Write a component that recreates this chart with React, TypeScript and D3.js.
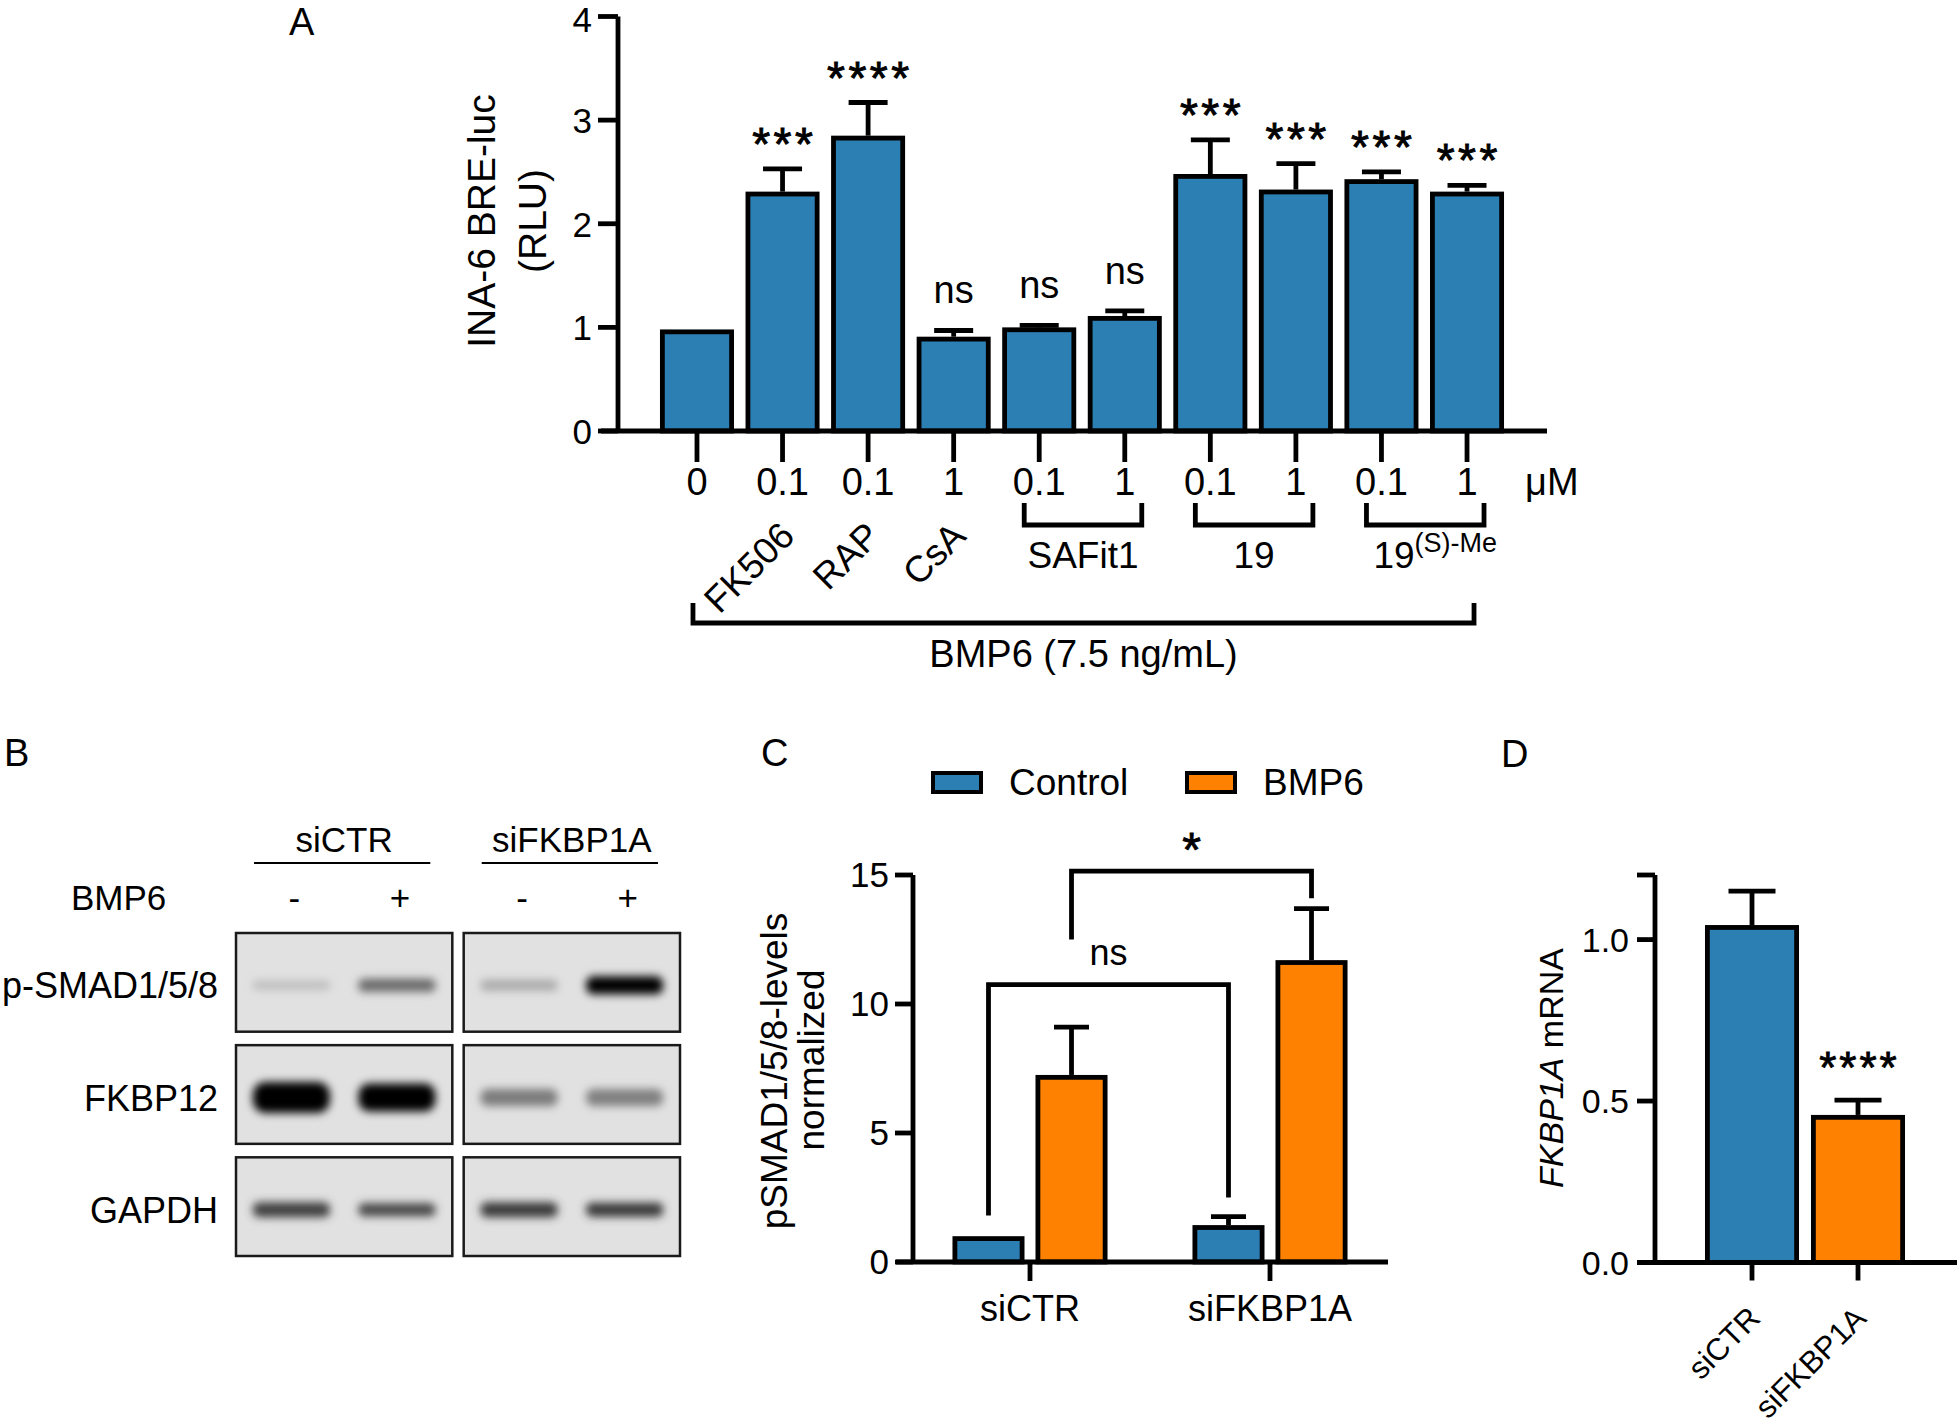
import React from 'react';
import * as d3 from 'd3';

const FONT = '"Liberation Sans", Arial, Helvetica, sans-serif';
const BLUE = '#2c7fb3';
const ORANGE = '#ff8102';
const SW = 4.8;

// ---------- Panel A data ----------
const aCategories = ['BMP6', 'FK506', 'RAP', 'CsA', 'SAFit1 0.1', 'SAFit1 1', '19 0.1', '19 1', '19(S)-Me 0.1', '19(S)-Me 1'];
const aDoseLabels = ['0', '0.1', '0.1', '1', '0.1', '1', '0.1', '1', '0.1', '1'];
const aMeans = [0.98, 2.31, 2.85, 0.91, 1.0, 1.11, 2.48, 2.33, 2.43, 2.31];
const aErrors = [0, 0.22, 0.32, 0.06, 0.02, 0.05, 0.33, 0.25, 0.07, 0.06];
const aSignif = ['', '***', '****', 'ns', 'ns', 'ns', '***', '***', '***', '***'];
const aYTicks = [0, 1, 2, 3, 4];
const aRotated = [
  { i: 1, label: 'FK506' },
  { i: 2, label: 'RAP' },
  { i: 3, label: 'CsA' },
];
const aGroups = [
  { from: 4, to: 5, label: 'SAFit1', sup: '' },
  { from: 6, to: 7, label: '19', sup: '' },
  { from: 8, to: 9, label: '19', sup: '(S)-Me' },
];

// ---------- Panel B data ----------
const blotTargets = ['p-SMAD1/5/8', 'FKBP12', 'GAPDH'];
const blotConditions = ['siCTR', 'siFKBP1A'];
const blotTreatment = ['-', '+'];
const bandIntensity = [
  [0.14, 0.5, 0.22, 1.0],
  [1, 1, 0.42, 0.4],
  [0.7, 0.66, 0.72, 0.74],
];
const bandThickness = [
  [9, 13, 11, 18],
  [31, 28, 17, 17],
  [15, 13, 15, 14],
];

// ---------- Panel C data ----------
const cGroups = ['siCTR', 'siFKBP1A'];
const cSeries = ['Control', 'BMP6'];
const cMeans = [
  [1.0, 7.25],
  [1.43, 11.7],
];
const cErrors = [
  [0, 1.85],
  [0.33, 2.0],
];
const cYTicks = [0, 5, 10, 15];
const cBrackets = [
  { a: [0, 0], b: [1, 0], top: 10.75, endA: 1.8, endB: 2.5, label: 'ns' },
  { a: [0, 1], b: [1, 1], top: 15.15, endA: 12.5, endB: 14.1, label: '*' },
];

// ---------- Panel D data ----------
const dCategories = ['siCTR', 'siFKBP1A'];
const dMeans = [1.045, 0.457];
const dErrors = [0.105, 0.046];
const dSignif = ['', '****'];
const dYTicks = [0, 0.5, 1.0, 1.2];
const dYTickLabels = ['0.0', '0.5', '1.0', ''];

function Bar({ x, w, y0, y1, fill }: { x: number; w: number; y0: number; y1: number; fill: string }) {
  return (
    <rect x={x + SW / 2} y={y1 + SW / 2} width={w - SW} height={y0 - y1 - SW / 2} fill={fill} stroke="#000" strokeWidth={SW} />
  );
}

function ErrBar({ cx, yTop, yEnd, cap }: { cx: number; yTop: number; yEnd: number; cap: number }) {
  return (
    <g stroke="#000" strokeWidth={SW}>
      <line x1={cx} x2={cx} y1={yTop} y2={yEnd} />
      <line x1={cx - cap / 2} x2={cx + cap / 2} y1={yEnd} y2={yEnd} />
    </g>
  );
}

function Stars({ x, y, text, size, ls }: { x: number; y: number; text: string; size: number; ls: number }) {
  return (
    <text x={x + ls / 2} y={y} textAnchor="middle" fontSize={size} letterSpacing={ls} stroke="#000" strokeWidth={0.9}>
      {text}
    </text>
  );
}

function Signif({ x, y, text }: { x: number; y: number; text: string }) {
  if (!text) return null;
  if (text === 'ns') {
    return (
      <text x={x} y={y - 27} textAnchor="middle" fontSize={38}>
        ns
      </text>
    );
  }
  return <Stars x={x} y={y - 9} text={text} size={46} ls={3.5} />;
}

function PanelA() {
  const x = d3.scaleBand<string>().domain(aCategories).range([654.2, 1509.8]).paddingInner(0.135).paddingOuter(0.0675);
  const y = d3.scaleLinear().domain([0, 4]).range([431, 16.5]);
  const bw = x.bandwidth();
  const cx = (i: number) => (x(aCategories[i]) as number) + bw / 2;
  const axisX0 = 618;
  const bigL = cx(0) - 4;
  const bigR = cx(aCategories.length - 1) + 7;
  return (
    <g>
      <text x={289} y={35} fontSize={38}>A</text>
      {/* y title */}
      <text transform={`translate(495,221) rotate(-90)`} textAnchor="middle" fontSize={39}>INA-6 BRE-luc</text>
      <text transform={`translate(546,221) rotate(-90)`} textAnchor="middle" fontSize={39}>(RLU)</text>
      {/* bars */}
      {aMeans.map((m, i) => (
        <g key={i}>
          {aErrors[i] > 0 && <ErrBar cx={cx(i)} yTop={y(m)} yEnd={y(m + aErrors[i])} cap={39} />}
          <Bar x={x(aCategories[i]) as number} w={bw} y0={y(0)} y1={y(m)} fill={BLUE} />
          <Signif x={cx(i)} y={y(m + aErrors[i])} text={aSignif[i]} />
        </g>
      ))}
      {/* axes */}
      <g stroke="#000" strokeWidth={SW}>
        <line x1={axisX0} x2={axisX0} y1={y(4)} y2={y(0)} />
        <line x1={601} x2={1547} y1={y(0)} y2={y(0)} />
        {aYTicks.map((t) => (
          <line key={t} x1={598} x2={axisX0} y1={y(t)} y2={y(t)} />
        ))}
        {aCategories.map((c, i) => (
          <line key={c} x1={cx(i)} x2={cx(i)} y1={y(0)} y2={y(0) + 31} />
        ))}
      </g>
      {aYTicks.map((t) => (
        <text key={t} x={592} y={Math.max(y(t) + 13, 32)} textAnchor="end" fontSize={35}>{t}</text>
      ))}
      {aDoseLabels.map((d, i) => (
        <text key={i} x={cx(i)} y={495} textAnchor="middle" fontSize={38}>{d}</text>
      ))}
      <text x={1525} y={495} fontSize={38}>μM</text>
      {aRotated.map((r) => (
        <text key={r.label} transform={`translate(${cx(r.i) + 14},538) rotate(-45)`} textAnchor="end" fontSize={37}>
          {r.label}
        </text>
      ))}
      {aGroups.map((g, k) => {
        const l = cx(g.from) - 15;
        const r = cx(g.to) + 17;
        return (
          <g key={k}>
            <path d={`M${l},503 V525 H${r} V503`} fill="none" stroke="#000" strokeWidth={SW} />
            <text x={(l + r) / 2 + (g.sup ? 10 : 0)} y={568} textAnchor="middle" fontSize={37}>
              {g.label}
              {g.sup && (
                <tspan dy={-16} fontSize={27}>{g.sup}</tspan>
              )}
            </text>
          </g>
        );
      })}
      <path d={`M${bigL},603 V623 H${bigR} V603`} fill="none" stroke="#000" strokeWidth={SW} />
      <text x={(bigL + bigR) / 2} y={667} textAnchor="middle" fontSize={38}>BMP6 (7.5 ng/mL)</text>
    </g>
  );
}

function PanelB() {
  const boxX = d3.scaleBand<string>().domain(blotConditions).range([236, 680]).paddingInner(0.05);
  const rowY = d3.scaleBand<string>().domain(blotTargets).range([933, 1256]).paddingInner(0.12);
  const boxW = boxX.bandwidth();
  const lane = d3.scaleBand<string>().domain(blotTreatment).range([0, boxW]).paddingInner(0.27).paddingOuter(0.16);
  const shade = d3.interpolateLab('#e0e0e0', '#000000');
  return (
    <g>
      <defs>
        <filter id="bandBlur" x="-20%" y="-100%" width="140%" height="300%">
          <feGaussianBlur stdDeviation="4.5" />
        </filter>
      </defs>
      <text x={4} y={766} fontSize={38}>B</text>
      {blotConditions.map((c) => {
        const bx = boxX(c) as number;
        return (
          <g key={c}>
            <text x={bx + boxW / 2} y={852} textAnchor="middle" fontSize={35}>{c}</text>
            <line x1={bx + 18} x2={bx + boxW - 22} y1={863} y2={863} stroke="#000" strokeWidth={2.2} />
            {blotTreatment.map((t) => (
              <text key={t} x={bx + (lane(t) as number) + lane.bandwidth() / 2 + 3} y={910} textAnchor="middle" fontSize={35}>{t}</text>
            ))}
          </g>
        );
      })}
      <text x={71} y={910} fontSize={35}>BMP6</text>
      {blotTargets.map((target, ri) => {
        const ry = rowY(target) as number;
        const rh = rowY.bandwidth();
        return (
          <g key={target}>
            <text x={218} y={ry + rh / 2 + 16} textAnchor="end" fontSize={36}>{target}</text>
            {blotConditions.map((c, ci) => {
              const bx = boxX(c) as number;
              const clipId = `clip-${ri}-${ci}`;
              return (
                <g key={c}>
                  <clipPath id={clipId}>
                    <rect x={bx} y={ry} width={boxW} height={rh} />
                  </clipPath>
                  <rect x={bx} y={ry} width={boxW} height={rh} fill="#e1e1e1" />
                  <g clipPath={`url(#${clipId})`}>
                    {blotTreatment.map((t, ti) => {
                      const li = ci * 2 + ti;
                      const h = bandThickness[ri][li];
                      const lx = bx + (lane(t) as number);
                      const lw = lane.bandwidth();
                      return (
                        <rect key={t} x={lx} y={ry + rh / 2 + 3 - h / 2} width={lw} height={h} rx={h / 2.5}
                          fill={shade(bandIntensity[ri][li])} filter="url(#bandBlur)" />
                      );
                    })}
                  </g>
                  <rect x={bx} y={ry} width={boxW} height={rh} fill="none" stroke="#1a1a1a" strokeWidth={2.5} />
                </g>
              );
            })}
          </g>
        );
      })}
    </g>
  );
}

function PanelC() {
  const x0 = d3.scaleBand<string>().domain(cGroups).range([910, 1390]).paddingInner(0.354).paddingOuter(0.177);
  const x1 = d3.scaleBand<string>().domain(cSeries).range([0, x0.bandwidth()]).paddingInner(0.1325);
  const y = d3.scaleLinear().domain([0, 15]).range([1262, 875]);
  const colors = [BLUE, ORANGE];
  const bx = (g: number, s: number) => (x0(cGroups[g]) as number) + (x1(cSeries[s]) as number);
  const bc = (g: number, s: number) => bx(g, s) + x1.bandwidth() / 2;
  const axX = 913;
  return (
    <g>
      <text x={761} y={766} fontSize={38}>C</text>
      {/* legend */}
      {cSeries.map((s, i) => {
        const lx = [931, 1185][i];
        return (
          <g key={s}>
            <rect x={lx + 2} y={773} width={48} height={19} fill={colors[i]} stroke="#000" strokeWidth={4} />
            <text x={lx + 78} y={795} fontSize={37}>{s}</text>
          </g>
        );
      })}
      <text transform={`translate(787,1071) rotate(-90)`} textAnchor="middle" fontSize={37}>pSMAD1/5/8-levels</text>
      <text transform={`translate(824,1060) rotate(-90)`} textAnchor="middle" fontSize={37}>normalized</text>
      {cMeans.map((row, g) =>
        row.map((m, s) => (
          <g key={`${g}-${s}`}>
            {cErrors[g][s] > 0 && <ErrBar cx={bc(g, s)} yTop={y(m)} yEnd={y(m + cErrors[g][s])} cap={35} />}
            <Bar x={bx(g, s)} w={x1.bandwidth()} y0={y(0)} y1={y(m)} fill={colors[s]} />
          </g>
        ))
      )}
      {cBrackets.map((b, k) => {
        const xa = bc(b.a[0], b.a[1]);
        const xb = bc(b.b[0], b.b[1]);
        return (
          <g key={k}>
            <path d={`M${xa},${y(b.endA)} V${y(b.top)} H${xb} V${y(b.endB)}`} fill="none" stroke="#000" strokeWidth={SW} />
            {b.label === 'ns' ? (
              <text x={(xa + xb) / 2} y={y(b.top) - 20} textAnchor="middle" fontSize={36}>ns</text>
            ) : (
              <Stars x={(xa + xb) / 2} y={y(b.top) - 5} text={b.label} size={48} ls={0} />
            )}
          </g>
        );
      })}
      <g stroke="#000" strokeWidth={SW}>
        <line x1={axX} x2={axX} y1={y(15)} y2={y(0)} />
        <line x1={896} x2={1388} y1={y(0)} y2={y(0)} />
        {cYTicks.map((t) => (
          <line key={t} x1={895} x2={axX} y1={y(t)} y2={y(t)} />
        ))}
        {cGroups.map((g) => {
          const c = (x0(g) as number) + x0.bandwidth() / 2;
          return <line key={g} x1={c} x2={c} y1={y(0)} y2={y(0) + 19} />;
        })}
      </g>
      {cYTicks.map((t) => (
        <text key={t} x={889} y={y(t) + 12} textAnchor="end" fontSize={35}>{t}</text>
      ))}
      {cGroups.map((g) => (
        <text key={g} x={(x0(g) as number) + x0.bandwidth() / 2} y={1321} textAnchor="middle" fontSize={36}>{g}</text>
      ))}
    </g>
  );
}

function PanelD() {
  const x = d3.scaleBand<string>().domain(dCategories).range([1699, 1911]).paddingInner(0.113).paddingOuter(0.0565);
  const y = d3.scaleLinear().domain([0, 1.2]).range([1262.5, 875]);
  const colors = [BLUE, ORANGE];
  const bw = x.bandwidth();
  const cx = (i: number) => (x(dCategories[i]) as number) + bw / 2;
  const axX = 1655;
  return (
    <g>
      <text x={1501} y={767} fontSize={38}>D</text>
      <text transform={`translate(1563,1068) rotate(-90)`} textAnchor="middle" fontSize={34}>
        <tspan fontStyle="italic">FKBP1A</tspan> mRNA
      </text>
      {dMeans.map((m, i) => (
        <g key={i}>
          <ErrBar cx={cx(i)} yTop={y(m)} yEnd={y(m + dErrors[i])} cap={47} />
          <Bar x={x(dCategories[i]) as number} w={bw} y0={y(0)} y1={y(m)} fill={colors[i]} />
          {dSignif[i] && <Stars x={cx(i)} y={y(m + dErrors[i]) - 17} text={dSignif[i]} size={44} ls={3} />}
        </g>
      ))}
      <g stroke="#000" strokeWidth={SW}>
        <line x1={axX} x2={axX} y1={y(1.2)} y2={y(0)} />
        <line x1={1637} x2={1957} y1={y(0)} y2={y(0)} />
        {dYTicks.map((t) => (
          <line key={t} x1={1637} x2={axX} y1={y(t)} y2={y(t)} />
        ))}
        {dCategories.map((c, i) => (
          <line key={c} x1={cx(i)} x2={cx(i)} y1={y(0)} y2={y(0) + 18} />
        ))}
      </g>
      {dYTicks.map((t, i) => (
        <text key={t} x={1629} y={y(t) + 12} textAnchor="end" fontSize={34}>{dYTickLabels[i]}</text>
      ))}
      {dCategories.map((c, i) => (
        <text key={c} transform={`translate(${cx(i) + 10},1320) rotate(-45)`} textAnchor="end" fontSize={31}>{c}</text>
      ))}
    </g>
  );
}

export default function App() {
  return (
    <svg width={1960} height={1426} viewBox="0 0 1960 1426" style={{ position: 'absolute', left: 0, top: 0, display: 'block' }}
      fontFamily={FONT} fill="#000">
      <rect x={0} y={0} width={1960} height={1426} fill="#fff" />
      <PanelA />
      <PanelB />
      <PanelC />
      <PanelD />
    </svg>
  );
}
